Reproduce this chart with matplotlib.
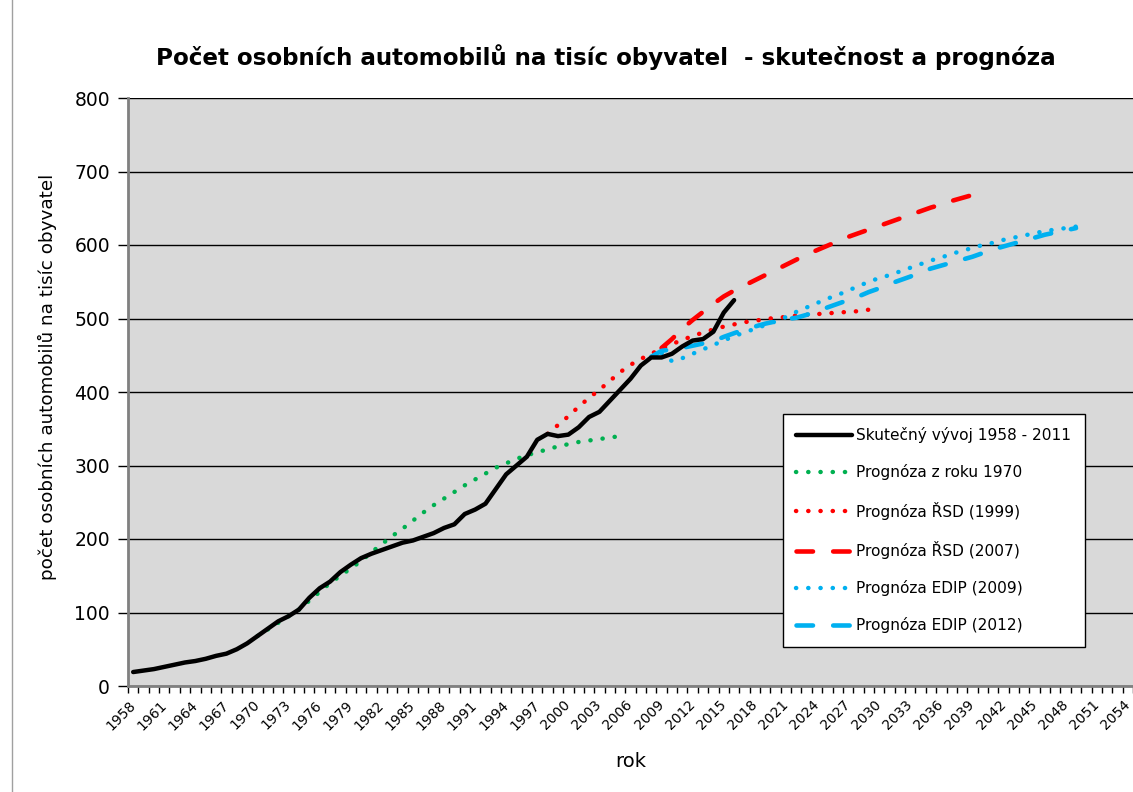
import matplotlib
matplotlib.use("Agg")
import matplotlib.pyplot as plt
from matplotlib.lines import Line2D
import numpy as np

plt.rcParams['font.family'] = ['DejaVu Sans']

# ---------------- data ----------------
actual_years = list(range(1958, 2017))
actual_vals = [19, 21, 23, 26, 29, 32, 34, 37, 41, 44,
               50, 58, 68, 78, 88, 95, 104, 120, 133, 142,
               155, 165, 174, 180, 185, 190, 195, 198, 203, 208,
               215, 220, 234, 240, 248, 268, 288, 300, 312, 335,
               343, 340, 342, 352, 366, 373, 388, 403, 418, 436,
               447, 447, 452, 462, 470, 472, 482, 508, 525]

p1970_years = list(range(1970, 2006))
p1970_vals = [68, 77, 86, 95, 104, 116, 128, 140, 150, 160,
              170, 182, 193, 204, 214, 225, 236, 246, 255, 264,
              273, 281, 289, 297, 303, 309, 314, 318, 322, 326,
              329, 332, 334, 336, 338, 340]

rsd1999_years = list(range(1998, 2030))
rsd1999_vals = [343, 355, 367, 380, 392, 403, 415, 427, 437, 445,
                452, 459, 465, 471, 476, 481, 485, 489, 492, 495,
                497, 499, 501, 502, 504, 505, 506, 507, 508, 509,
                510, 512]

rsd2007_years = list(range(2009, 2041))
rsd2007_vals = [460, 472, 486, 498, 509, 520, 530, 538, 545, 552,
                559, 566, 573, 580, 587, 593, 599, 605, 611, 616,
                621, 626, 631, 636, 641, 646, 651, 655, 660, 664,
                668, 672]

edip2009_years = list(range(2009, 2051))
edip2009_vals = [453, 442, 446, 452, 458, 464, 470, 476, 481, 486,
                 491, 496, 502, 509, 515, 521, 527, 532, 538, 544,
                 550, 555, 559, 564, 569, 574, 579, 583, 588, 592,
                 596, 600, 603, 607, 610, 613, 616, 619, 621, 623,
                 625, 627]

edip2012_years = list(range(2008, 2050))
edip2012_vals = [448, 456, 458, 460, 463, 466, 469, 475, 480, 485,
                 489, 493, 496, 499, 501, 505, 510, 515, 520, 525,
                 530, 536, 541, 547, 552, 557, 563, 568, 572, 576,
                 580, 584, 589, 594, 598, 602, 606, 610, 614, 617,
                 620, 623]

series_labels = ["Skutečný vývoj 1958 - 2011", "Prognóza z roku 1970",
                 "Prognóza ŘSD (1999)", "Prognóza ŘSD (2007)",
                 "Prognóza EDIP (2009)", "Prognóza EDIP (2012)"]

first_year, last_year = 1958, 2054
label_years = list(range(1958, 2055, 3))
y_ticks = [0, 100, 200, 300, 400, 500, 600, 700, 800]

title = "Počet osobních automobilů na tisíc obyvatel  - skutečnost a prognóza"
ylabel = "počet osobních automobilů na tisíc obyvatel"
xlabel = "rok"

# ---------------- figure ----------------
fig = plt.figure(figsize=(11.33, 7.92), dpi=100)
ax = fig.add_axes([128 / 1133, 1 - 686 / 792, 1 - 128 / 1133, (686 - 98) / 792])
ax.set_facecolor('#D9D9D9')

green = '#00B050'
red = '#FF0000'
blue = '#00B0F0'

dot = (0, (0.05, 2.7))
dash = (0, (3.6, 4.4))

ax.plot(actual_years, actual_vals, color='black', lw=3.2,
        solid_capstyle='round', solid_joinstyle='round', zorder=5, label=series_labels[0])
ax.plot(p1970_years, p1970_vals, color=green, lw=3.2, linestyle=dot,
        dash_capstyle='round', zorder=4, label=series_labels[1])
ax.plot(rsd1999_years, rsd1999_vals, color=red, lw=3.2, linestyle=dot,
        dash_capstyle='round', zorder=4, label=series_labels[2])
ax.plot(rsd2007_years, rsd2007_vals, color=red, lw=3.3, linestyle=dash,
        dash_capstyle='round', zorder=4, label=series_labels[3])
ax.plot(edip2009_years, edip2009_vals, color=blue, lw=3.2, linestyle=dot,
        dash_capstyle='round', zorder=4, label=series_labels[4])
ax.plot(edip2012_years, edip2012_vals, color=blue, lw=3.3, linestyle=dash,
        dash_capstyle='round', zorder=4, label=series_labels[5])

ax.set_xlim(first_year - 0.5, last_year + 0.5)
ax.set_ylim(0, 800)

ax.set_yticks(y_ticks)
ax.set_yticklabels([str(v) for v in y_ticks], fontsize=13.5)
ax.yaxis.grid(True, color='black', lw=1.0)
ax.set_axisbelow(True)
ax.tick_params(axis='y', direction='out', length=7, width=1, color='black', pad=6)

ax.set_xticks(label_years)
ax.set_xticklabels([str(y) for y in label_years], rotation=45, ha='right',
                   va='center', rotation_mode='anchor', fontsize=10)
ax.set_xticks(np.arange(first_year - 0.5, last_year + 1.0, 1.0), minor=True)
ax.tick_params(axis='x', which='major', length=0, pad=12)
ax.tick_params(axis='x', which='minor', direction='out', length=5, width=1, color='black')

for s in ['top', 'right']:
    ax.spines[s].set_visible(False)
ax.spines['left'].set_color('#808080')
ax.spines['left'].set_linewidth(2)
ax.spines['bottom'].set_color('#808080')
ax.spines['bottom'].set_linewidth(2)

ax.set_ylabel(ylabel, fontsize=13.2)
ax.yaxis.set_label_coords(-0.071, 0.525)
ax.set_xlabel(xlabel, fontsize=14, labelpad=14)

fig.text(606 / 1133, 1 - 57 / 792, title, fontsize=16.6, fontweight='bold',
         ha='center', va='center')

leg = ax.legend(loc='upper left', bbox_to_anchor=(0.652, 0.4626), fontsize=11.1,
                handlelength=3.6, labelspacing=1.38, borderpad=0.85,
                fancybox=False, framealpha=1, edgecolor='black', facecolor='white',
                handletextpad=0.3, borderaxespad=0)
leg.get_frame().set_linewidth(1.0)

# thin border on left of chart area
fig.add_artist(Line2D([12 / 1133, 12 / 1133], [0, 1], color='#A0A0A0', lw=1,
                      transform=fig.transFigure))

fig.savefig('out.png', dpi=100, facecolor='white')
